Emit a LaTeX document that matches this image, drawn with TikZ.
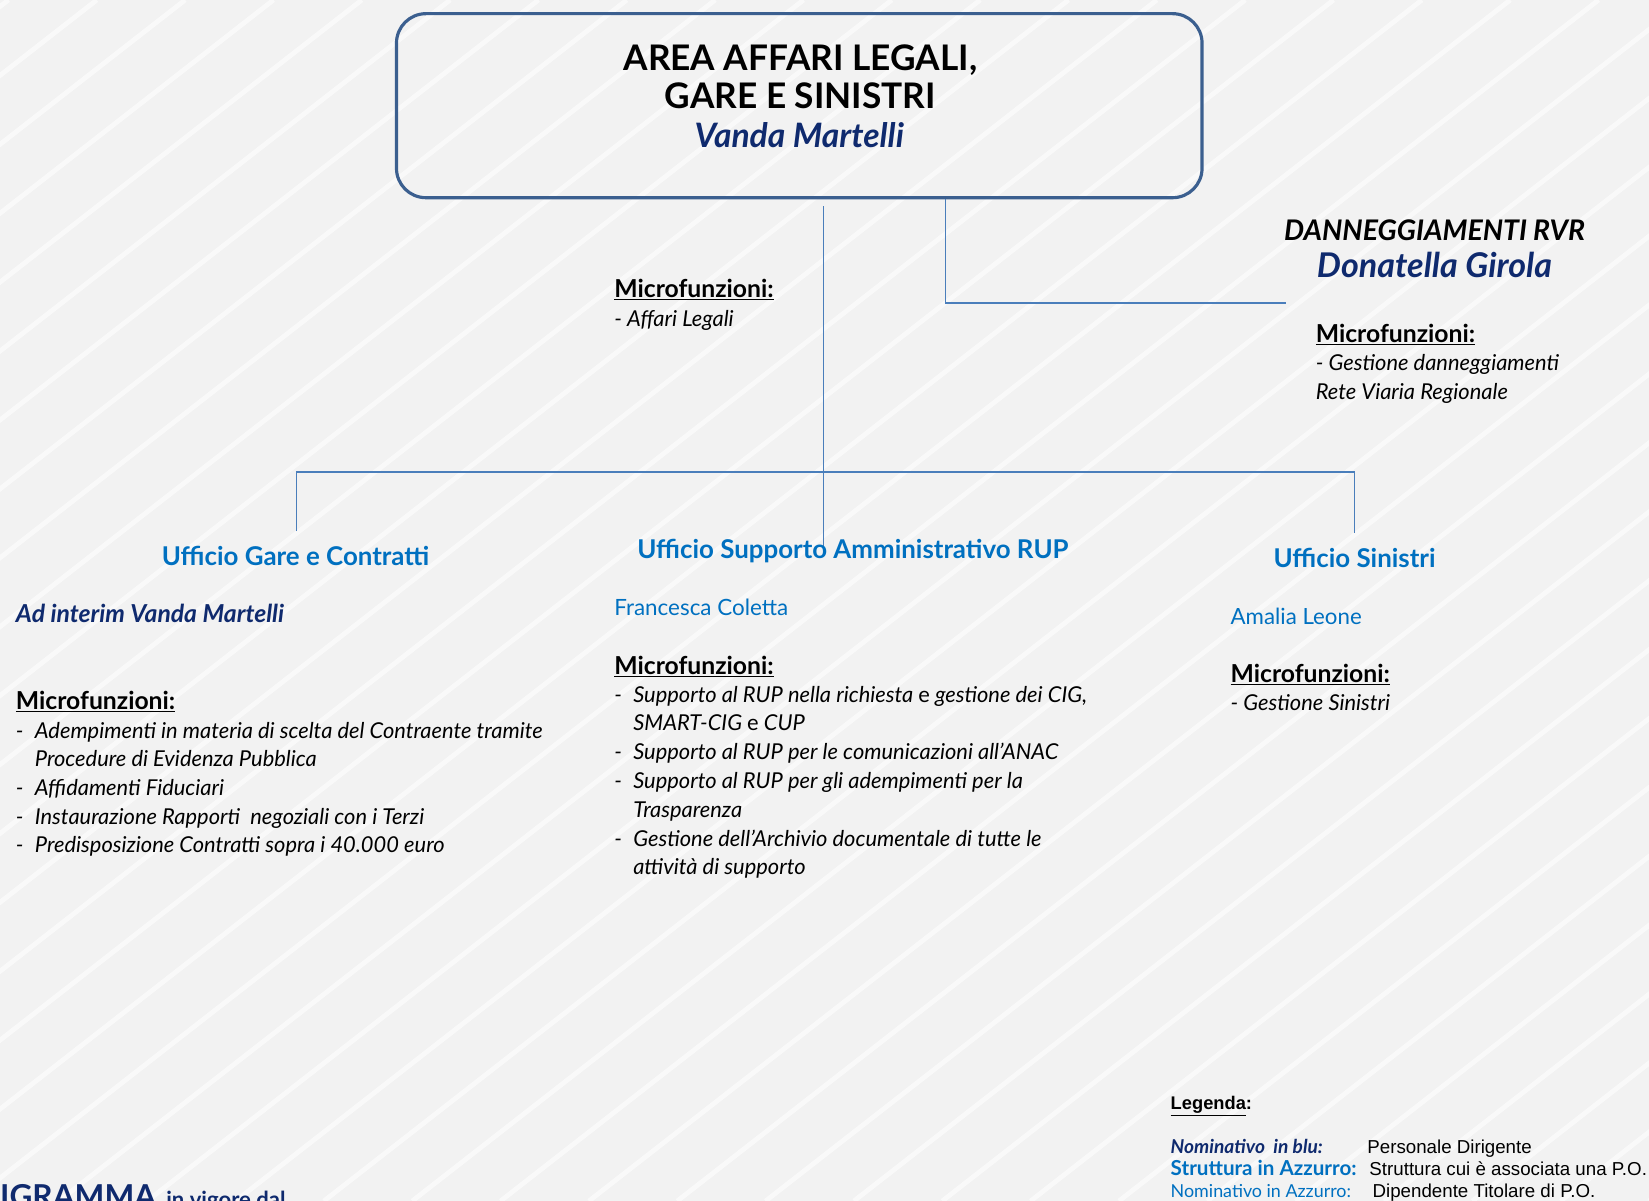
\documentclass[tikz,border=0pt]{standalone}
\usepackage{fontspec}
\setmainfont{Lato}
\newfontfamily\arialf{Liberation Sans}
\definecolor{bgc}{HTML}{F2F2F2}
\definecolor{navy}{HTML}{0F2A6E}
\definecolor{azure}{HTML}{0070C0}
\definecolor{linec}{HTML}{4A7EBB}
\definecolor{boxc}{HTML}{3B5F8F}
\newcommand{\mfsize}{\fontsize{23.5}{26}\selectfont}
\newcommand{\itsize}{\fontsize{20.8}{26}\selectfont}
\begin{document}
\begin{tikzpicture}[x=1pt,y=-1pt,
  tl/.style={anchor=base west,inner sep=0pt},
  tc/.style={anchor=base,inner sep=0pt},
  mf/.style={tl,font=\mfsize\bfseries},
  it/.style={tl,font=\itsize\itshape},
  ufficio/.style={tc,font=\fontsize{24.6}{28}\selectfont\bfseries,text=azure},
  conn/.style={draw=linec,line width=1.6pt},
  legr/.style={tl,font=\arialf\fontsize{17.8}{20}\selectfont}]
\useasboundingbox (0,0) rectangle (1568,1142);
\clip (0,0) rectangle (1568,1142);
\fill[bgc] (0,0) rectangle (1568,1142);
\foreach \a in {-1540,-1456,...,1650}
  \draw[white,line width=4.5pt,opacity=0.6] (\a,1142) -- ++(1464,-1142);

% top box
\node[draw=boxc,line width=3pt,rounded corners=28pt,minimum width=766pt,minimum height=175pt,inner sep=0pt] (top) at (760,100.5) {};
\node[tc,font=\fontsize{33.5}{36}\selectfont\bfseries] (t1) at (761,67) {AREA AFFARI LEGALI,};
\node[tc,font=\fontsize{33.5}{36}\selectfont\bfseries] (t2) at (761,103) {GARE E SINISTRI};
\node[tc,font=\fontsize{32}{36}\selectfont\bfseries\itshape,text=navy] (t3) at (760,140) {Vanda Martelli};

% connectors
\coordinate (vtop) at (783,196);
\coordinate (vbot) at (783,521);
\coordinate (hl) at (282,449);
\coordinate (hr) at (1288,449);
\coordinate (dl) at (282,505);
\coordinate (dr) at (1288,507);
\coordinate (rtop) at (899,189);
\coordinate (rcor) at (899,288);
\coordinate (rend) at (1223,288);
\draw[conn] (vtop) -- (vbot);
\draw[conn] (dl) -- (hl) -- (hr) -- (dr);
\draw[conn] (rtop) -- (rcor) -- (rend);

% centre microfunzioni
\node[mf] (m0) at (584,283) {\underline{Microfunzioni:}};
\node[it] (m0a) at (584,310) {- Affari Legali};

% danneggiamenti
\node[tc,font=\fontsize{27}{30}\selectfont\bfseries\itshape] (d1) at (1364,229) {DANNEGGIAMENTI RVR};
\node[tc,font=\fontsize{32.4}{34}\selectfont\bfseries\itshape,text=navy] (d2) at (1364,264) {Donatella Girola};
\node[mf] (dm) at (1251,326) {\underline{Microfunzioni:}};
\node[it] (dm1) at (1251,352) {- Gestione danneggiamenti};
\node[it] (dm2) at (1251,380) {Rete Viaria Regionale};

% uffici
\node[ufficio] (u1) at (281,538) {Ufficio Gare e Contratti};
\node[ufficio] (u2) at (811,531) {Ufficio Supporto Amministrativo RUP};
\node[ufficio] (u3) at (1288,540) {Ufficio Sinistri};

\node[tl,font=\fontsize{23.5}{26}\selectfont\bfseries\itshape,text=navy] (n1) at (15,592) {Ad interim Vanda Martelli};
\node[tl,font=\fontsize{21.3}{24}\selectfont,text=azure] (n2) at (584,585) {Francesca Coletta};
\node[tl,font=\fontsize{21.2}{24}\selectfont,text=azure] (n3) at (1170,594) {Amalia Leone};

% left list
\node[mf] (lm) at (15,675) {\underline{Microfunzioni:}};
\node[it] (l1d) at (15,702) {-};
\node[it] (l1) at (33,702) {Adempimenti in materia di scelta del Contraente tramite};
\node[it] (l1b) at (33,729) {Procedure di Evidenza Pubblica};
\node[it] (l2d) at (15,756) {-};
\node[it] (l2) at (33,756) {Affidamenti Fiduciari};
\node[it] (l3d) at (15,784) {-};
\node[it] (l3) at (33,784) {Instaurazione Rapporti\ \ negoziali con i Terzi};
\node[it] (l4d) at (15,811) {-};
\node[it] (l4) at (33,811) {Predisposizione Contratti sopra i 40.000 euro};

% middle list
\node[mf] (cm) at (584,641) {\underline{Microfunzioni:}};
\node[it] (c1d) at (584,668) {-};
\node[it] (c1) at (602,668) {Supporto al RUP nella richiesta {\upshape e} gestione dei CIG,};
\node[it] (c1b) at (602,695) {SMART-CIG {\upshape e} CUP};
\node[it] (c2d) at (584,722) {-};
\node[it] (c2) at (602,722) {Supporto al RUP per le comunicazioni all’ANAC};
\node[it] (c3d) at (584,750) {-};
\node[it] (c3) at (602,750) {Supporto al RUP per gli adempimenti per la};
\node[it] (c3b) at (602,777) {Trasparenza};
\node[it] (c4d) at (584,805) {-};
\node[it] (c4) at (602,805) {Gestione dell’Archivio documentale di tutte le};
\node[it] (c4b) at (602,832) {attività di supporto};

% right list
\node[mf] (rm) at (1170,649) {\underline{Microfunzioni:}};
\node[it] (r1) at (1170,676) {- Gestione Sinistri};

% legend
\node[tl,font=\arialf\fontsize{17.4}{20}\selectfont\bfseries] (lg) at (1113,1055) {\underline{Legenda}:};
\node[tl,font=\fontsize{18.2}{20}\selectfont\bfseries\itshape,text=navy] (lg1) at (1113,1097) {Nominativo\ \ in blu:};
\node[legr] (lg1r) at (1300,1097) {Personale Dirigente};
\node[tl,font=\fontsize{19.6}{20}\selectfont\bfseries,text=azure] (lg2) at (1113,1118) {Struttura in Azzurro:};
\node[legr] (lg2r) at (1302,1118) {Struttura cui è associata una P.O.};
\node[tl,font=\fontsize{17}{20}\selectfont,text=azure] (lg3) at (1113,1139) {Nominativo in Azzurro:};
\node[legr] (lg3r) at (1305,1139) {Dipendente Titolare di P.O.};

% bottom left
\node[tl,font=\fontsize{30}{34}\selectfont\bfseries,text=navy] (org) at (0,1148) {IGRAMMA};
\node[tl,font=\fontsize{21}{24}\selectfont\bfseries,text=navy] (vig) at (158,1148) {in vigore dal};
\end{tikzpicture}
\end{document}
